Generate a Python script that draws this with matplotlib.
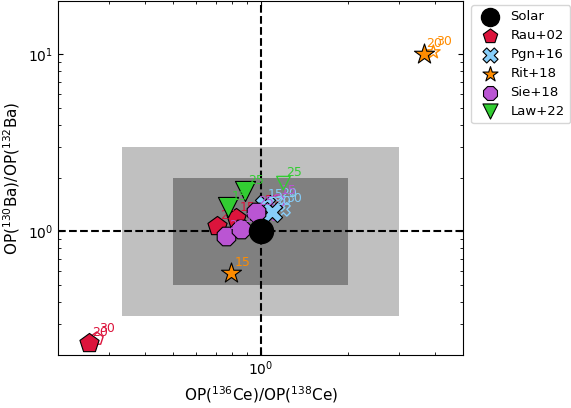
import matplotlib
matplotlib.use('Agg')
import matplotlib.pyplot as plt
from matplotlib.patches import Rectangle

# OP ratios relative to solar: x = 136Ce/138Ce, y = 130Ba/132Ba
# filled markers: standard models, open markers: alternative set
rau_x = [0.256, 0.710, 0.826]
rau_y = [0.233, 1.067, 1.184]
rau_lab = ['20', '25', '15']
rau_open_x = [0.272, 1.010]
rau_open_y = [0.247, 1.300]
rau_open_lab = ['30', '25']

pgn_x = [1.035, 1.095]
pgn_y = [1.410, 1.290]
pgn_lab = ['15', '20']
pgn_open_x = [1.150, 1.200]
pgn_open_y = [1.420, 1.330]
pgn_open_lab = ['20', '30']

rit_x = [3.66, 0.794]
rit_y = [10.0, 0.579]
rit_lab = ['20', '15']
rit_open_x = [3.95]
rit_open_y = [10.3]
rit_open_lab = ['30']

sie_x = [0.762, 0.859, 0.961]
sie_y = [0.937, 1.026, 1.280]
sie_lab = ['20', '15', '25']
sie_open_x = [0.990, 1.150]
sie_open_y = [1.040, 1.480]
sie_open_lab = ['20', '15']

law_x = [0.887, 0.775]
law_y = [1.683, 1.366]
law_lab = ['25', '15']
law_open_x = [1.200]
law_open_y = [1.870]
law_open_lab = ['25']

solar_x = [1.0]
solar_y = [1.0]

series = [
    ('Rau+02', 'p', 'crimson', 210, rau_x, rau_y, rau_lab, rau_open_x, rau_open_y, rau_open_lab),
    ('Pgn+16', 'X', 'lightskyblue', 210, pgn_x, pgn_y, pgn_lab, pgn_open_x, pgn_open_y, pgn_open_lab),
    ('Rit+18', '*', 'darkorange', 230, rit_x, rit_y, rit_lab, rit_open_x, rit_open_y, rit_open_lab),
    ('Sie+18', '8', 'mediumorchid', 210, sie_x, sie_y, sie_lab, sie_open_x, sie_open_y, sie_open_lab),
    ('Law+22', 'v', 'limegreen', 210, law_x, law_y, law_lab, law_open_x, law_open_y, law_open_lab),
]

fig = plt.figure(figsize=(5.71, 4.08), dpi=100)
ax = fig.add_axes([0.1016, 0.13, 0.7093, 0.8675])

# factor 3 and factor 2 bands around solar
ax.add_patch(Rectangle((1/3, 1/3), 3 - 1/3, 3 - 1/3, color='silver', lw=0, zorder=0))
ax.add_patch(Rectangle((0.5, 0.5), 1.5, 1.5, color='gray', lw=0, zorder=1))
ax.axvline(1, color='k', ls='--', lw=1.5, zorder=2)
ax.axhline(1, color='k', ls='--', lw=1.5, zorder=2)

ax.scatter(solar_x, solar_y, s=300, marker='o', color='k', zorder=5, label='Solar')

for name, mk, col, size, x, y, lab, ox, oy, olab in series:
    ax.scatter(ox, oy, s=size * 0.45, marker=mk, facecolors='none', edgecolors=col,
               linewidths=1.0, zorder=3)
    for xx, yy, tt in zip(ox, oy, olab):
        ax.annotate(tt, (xx, yy), xytext=(2, 3), textcoords='offset points',
                    color=col, fontsize=9, ha='left', va='bottom', zorder=3)
    ax.scatter(x, y, s=size, marker=mk, color=col, edgecolors='k', linewidths=0.8,
               zorder=4, label=name)
    for xx, yy, tt in zip(x, y, lab):
        ax.annotate(tt, (xx, yy), xytext=(2, 3), textcoords='offset points',
                    color=col, fontsize=9, ha='left', va='bottom', zorder=4)

ax.set_xscale('log')
ax.set_yscale('log')
ax.set_xlim(0.2, 5)
ax.set_ylim(0.2, 20)
ax.tick_params(which='both', direction='in', top=True, right=True, labelsize=10)
ax.set_xlabel(r'OP($^{136}$Ce)/OP($^{138}$Ce)', fontsize=11)
ax.set_ylabel(r'OP($^{130}$Ba)/OP($^{132}$Ba)', fontsize=11)

ax.legend(loc='upper left', bbox_to_anchor=(1.01, 1.0), fontsize=9.5,
          markerscale=0.75, borderaxespad=0.3, handletextpad=0.6,
          labelspacing=0.45)

fig.savefig('out.png', dpi=100)
